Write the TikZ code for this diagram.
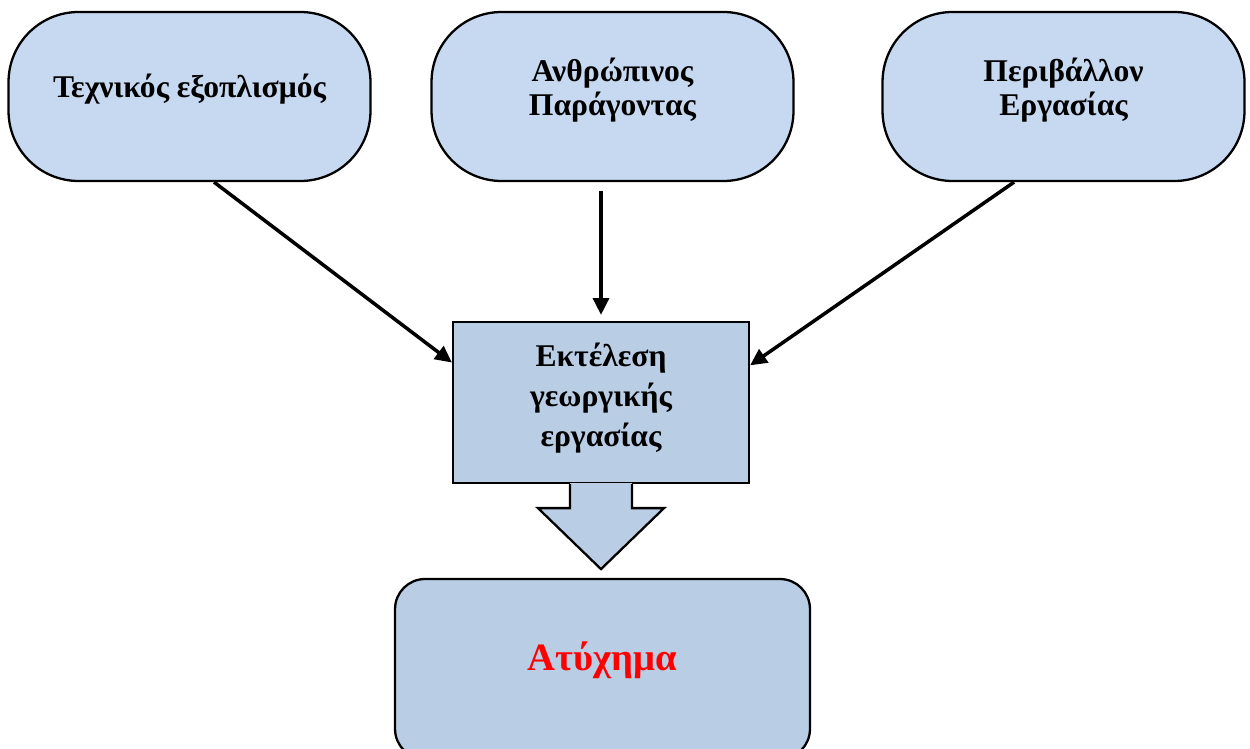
\documentclass[tikz,border=0pt]{standalone}
\usepackage{fontspec}
\setmainfont{Liberation Serif}
\usetikzlibrary{arrows.meta}
\definecolor{topblue}{HTML}{C6D9F1}
\definecolor{taskblue}{HTML}{B9CDE5}

\begin{document}
\begin{tikzpicture}[x=0.02cm, y=-0.02cm,
    font=\fontsize{18}{19.5}\selectfont\bfseries,
    factor/.style={draw, line width=1.3pt, fill=topblue, rounded corners=1.4cm,
        minimum width=7.24cm, minimum height=3.38cm},
    taskbox/.style={draw, line width=1.3pt, fill=taskblue,
        minimum width=5.92cm, minimum height=3.22cm},
    endbox/.style={draw, line width=1.3pt, fill=taskblue, rounded corners=0.6cm,
        minimum width=8.3cm, minimum height=3.6cm},
    caption/.style={align=center, yshift=#1},
    flow/.style={line width=2pt, -{Triangle[length=9.5pt, width=9pt]}}]
    \clip (0,0) rectangle (1250,749);
    % three factors
    \node[factor, label={[caption=4pt]center:Τεχνικός εξοπλισμός}] (equip) at (189.5,96.5) {};
    \node[factor, label={[caption=3.7pt]center:Ανθρώπινος\\Παράγοντας}] (human) at (612.5,96.5) {};
    \node[factor, label={[caption=3.7pt]center:Περιβάλλον\\Εργασίας}] (environ) at (1063.5,96.5) {};
    % task
    \node[taskbox, label={[caption=2.5pt, font=\fontsize{18}{22.5}\selectfont\bfseries]center:Εκτέλεση\\γεωργικής\\εργασίας}] (task) at (601,402.5) {};
    % accident, cut by the lower edge
    \node[endbox, label={[caption=5pt, font=\fontsize{22}{24}\selectfont\bfseries, text=red]center:Ατύχημα}] (accident) at (602.5,669) {};
    % arrows into the task
    \draw[flow] (equip.-74.5) -- (task.165.5);
    \draw[flow, shorten <=0.18cm, shorten >=0.12cm] (human.south -| task.north) -- (task.north);
    \draw[flow] (environ.-120.9) -- (task.14.3);
    % block arrow down to the accident
    \fill[taskblue] (task.south) ++(-31,-1) -- ++(0,25) -- ++(-32,0) -- ++(63,61)
        -- ++(63,-61) -- ++(-32,0) -- ++(0,-25) -- cycle;
    \draw[line width=1.3pt, line join=miter] (task.south) ++(-31,0) -- ++(0,24) -- ++(-32,0)
        -- ++(63,61) -- ++(63,-61) -- ++(-32,0) -- ++(0,-24);
\end{tikzpicture}
\end{document}
